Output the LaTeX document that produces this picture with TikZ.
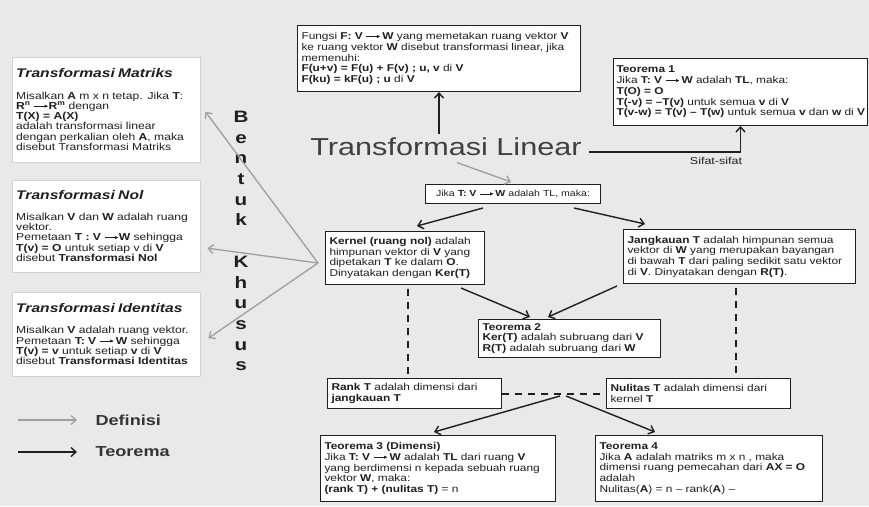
\documentclass[tikz,border=0pt]{standalone}
\usepackage{fontspec}
\setmainfont{Liberation Sans}
\newfontfamily\wide[FakeStretch=1.25]{Liberation Sans}
\newfontfamily\wider[FakeStretch=1.2]{Liberation Sans}
\usetikzlibrary{arrows.meta,calc}
\lineskiplimit=-6pt
\definecolor{bgc}{gray}{0.915}
\definecolor{ink}{gray}{0.12}
\definecolor{defc}{gray}{0.62}
\newcommand{\tto}{\tikz[baseline=-0.6ex]\draw[line width=0.55pt,-{Latex[length=3.5pt,width=3.2pt]}] (0pt,0pt)--(14pt,0pt);}
\newcommand{\bxfont}{\wider\fontsize{9.9}{10.7}\selectfont}
\newcommand{\jfont}{\wider\fontsize{8.8}{9.5}\selectfont}
\newcommand{\lbody}{\wider\fontsize{10.1}{10.3}\selectfont}
\newcommand{\ltitle}{\wide\fontsize{12.5}{14}\selectfont\bfseries\itshape}
\begin{document}
\begin{tikzpicture}[x=1pt,y=-1pt,
  box/.style={draw=ink,line width=1pt,fill=white,anchor=north west,inner xsep=4pt,inner ysep=2pt,align=left,font=\bxfont,text=ink},
  lbox/.style={draw=gray!35,line width=0.4pt,fill=white,anchor=north west,inner xsep=4pt,inner ysep=4pt,align=left,text=ink},
  thm/.style={draw=ink,line width=1.4pt,-{Straight Barb[length=5pt,width=9pt]}},
  defa/.style={draw=defc,line width=1.3pt,-{Straight Barb[length=5pt,width=9pt]}},
  dashy/.style={draw=ink,line width=2pt,dash pattern=on 7pt off 6pt}]
\fill[bgc] (0,0) rectangle (869,506);
\useasboundingbox (0,0) rectangle (869,506);

% title
\node[font=\wide\fontsize{24.5}{28}\selectfont,text=gray!50!black] (title) at (446,147) {Transformasi Linear};

% top boxes
\node[box,text width=275pt,minimum height=66pt] (fungsi) at (297,25)
 {\mbox{Fungsi \textbf{F: V} \tto\,\textbf{W} yang memetakan ruang vektor \textbf{V}}\\
  ke ruang vektor \textbf{W} disebut transformasi linear, jika\\
  memenuhi:\\
  \textbf{F(u+v) = F(u) + F(v) ; u, v} di \textbf{V}\\
  \textbf{F(ku) = kF(u) ; u} di \textbf{V}};

\node[box,inner xsep=3pt,text width=248pt,minimum height=67pt] (teo1) at (613,58)
 {\textbf{Teorema 1}\\
  Jika \textbf{T: V} \tto\,\textbf{W} adalah \textbf{TL}, maka:\\
  \textbf{T(O) = O}\\
  \textbf{T(-v) = –T(v)} untuk semua \textbf{v} di \textbf{V}\\
  \mbox{\textbf{T(v-w) = T(v) – T(w)} untuk semua \textbf{v} dan \textbf{w} di \textbf{V}}};

\node[font=\wide\fontsize{10}{12}\selectfont,text=ink] (sifat) at (716,161) {Sifat-sifat};

\node[box,text width=167pt,minimum height=19pt,align=center,font=\jfont] (jika) at (425,184)
 {Jika \textbf{T: V} \tto\,\textbf{W} adalah TL, maka:};

\node[box,text width=151pt,minimum height=53pt] (kernel) at (325,231)
 {\textbf{Kernel (ruang nol)} adalah\\
  himpunan vektor di \textbf{V} yang\\
  dipetakan \textbf{T} ke dalam \textbf{O}.\\
  Dinyatakan dengan \textbf{Ker(T)}};

\node[box,text width=224pt,minimum height=54pt] (jangkauan) at (623,229)
 {\textbf{Jangkauan T} adalah himpunan semua\\
  vektor di \textbf{W} yang merupakan bayangan\\
  di bawah \textbf{T} dari paling sedikit satu vektor\\
  di \textbf{V}. Dinyatakan dengan \textbf{R(T)}.};

\node[box,text width=174pt,minimum height=38pt] (teo2) at (478,319)
 {\textbf{Teorema 2}\\
  \textbf{Ker(T)} adalah subruang dari \textbf{V}\\
  \textbf{R(T)} adalah subruang dari \textbf{W}};

\node[box,text width=166pt,minimum height=30pt] (rank) at (327,378)
 {\textbf{Rank T} adalah dimensi dari\\ \textbf{jangkauan T}};

\node[box,text width=176pt,minimum height=30pt] (nulitas) at (606,378)
 {\textbf{Nulitas T} adalah dimensi dari\\ kernel \textbf{T}};

\node[box,text width=227pt,minimum height=66pt] (teo3) at (320,435)
 {\textbf{Teorema 3 (Dimensi)}\\
  Jika \textbf{T: V} \tto\,\textbf{W} adalah \textbf{TL} dari ruang \textbf{V}\\
  yang berdimensi n kepada sebuah ruang\\
  vektor \textbf{W}, maka:\\
  \textbf{(rank T) + (nulitas T)} = n};

\node[box,text width=219pt,minimum height=66pt] (teo4) at (595,435)
 {\textbf{Teorema 4}\\
  Jika \textbf{A} adalah matriks m x n , maka\\
  dimensi ruang pemecahan dari \textbf{AX = O}\\
  adalah\\
  Nulitas(\textbf{A}) = n – rank(\textbf{A}) –};

% left boxes
\node[lbox,text width=180pt,minimum height=105pt] (matriks) at (12,57)
 {{\ltitle Transformasi Matriks\par}\vspace{11pt}
  {\lbody Misalkan \textbf{A} m x n tetap. Jika \textbf{T}:\\
  \textbf{R\textsuperscript{n}} \tto\textbf{R\textsuperscript{m}} dengan\\
  \textbf{T(X) = A(X)}\\
  adalah transformasi linear\\
  dengan perkalian oleh \textbf{A}, maka\\
  disebut Transformasi Matriks\par}};

\node[lbox,text width=180pt,minimum height=92pt] (nol) at (12,180)
 {{\ltitle Transformasi Nol\par}\vspace{10pt}
  {\lbody Misalkan \textbf{V} dan \textbf{W} adalah ruang\\
  vektor.\\
  Pemetaan \textbf{T : V} \tto\textbf{W} sehingga\\
  \textbf{T(v) = O} untuk setiap v di \textbf{V}\\
  disebut \textbf{Transformasi Nol}\par}};

\node[lbox,text width=180pt,minimum height=84pt] (identitas) at (12,292)
 {{\ltitle Transformasi Identitas\par}\vspace{11pt}
  {\lbody \mbox{Misalkan \textbf{V} adalah ruang vektor.}\\
  Pemetaan \textbf{T: V} \tto\,\textbf{W} sehingga\\
  \textbf{T(v) = v} untuk setiap \textbf{v} di \textbf{V}\\
  disebut \textbf{Transformasi Identitas}\par}};

% Bentuk Khusus
\node[align=center,font=\wide\fontsize{16.5}{20.7}\selectfont\bfseries,text=ink] (bk) at (241,241)
 {B\\e\\n\\t\\u\\k\\[20.7pt]K\\h\\u\\s\\u\\s};

% legend
\coordinate (l1a) at (18,420); \coordinate (l1b) at (77,420);
\coordinate (l2a) at (18,452); \coordinate (l2b) at (77,452);
\draw[defa] (l1a) -- (l1b);
\draw[thm] (l2a) -- (l2b);
\node[anchor=west,font=\wide\fontsize{14.5}{16}\selectfont\bfseries,text=ink!90] (ldef) at (92,420) {Definisi};
\node[anchor=west,font=\wide\fontsize{14.5}{16}\selectfont\bfseries,text=ink!90] (lteo) at (92,452) {Teorema};

% definition arrows
\coordinate (conv) at (318,263);
\draw[defa] (conv) -- ([xshift=5pt,yshift=-2pt]matriks.east);
\draw[defa] (conv) -- ([xshift=7pt,yshift=-22pt]nol.east);
\draw[defa] (conv) -- ([xshift=8pt,yshift=-4pt]identitas.east);
\draw[defa] ([xshift=11pt,yshift=-3pt]title.south) -- ([xshift=-2pt,yshift=2pt]jika.north);

% theorem arrows
\draw[thm] (title.north -| fungsi.south) -- (fungsi.south);
\draw[thm] ([xshift=4pt,yshift=-5pt]title.east) -| (teo1.south);
\draw[thm] ([xshift=58pt,yshift=-4pt]jika.south west) -- ([xshift=12pt,yshift=5pt]kernel.north);
\draw[thm] ([xshift=-27pt,yshift=-4pt]jika.south east) -- ([xshift=22pt,yshift=5pt]jangkauan.north west);
\draw[thm] ([xshift=-24pt,yshift=-3pt]kernel.south east) -- ([xshift=52pt,yshift=2pt]teo2.north west);
\draw[thm] ([xshift=-6pt,yshift=-2pt]jangkauan.south west) -- ([xshift=70pt,yshift=2pt]teo2.north west);

% dashed links
\draw[dashy] ([xshift=3pt,yshift=-4pt]kernel.south) -- ([xshift=3pt]kernel.south |- rank.north);
\draw[dashy] ([xshift=-4pt,yshift=-4pt]jangkauan.south) -- ([xshift=-4pt]jangkauan.south |- nulitas.north);
\draw[dashy] (rank.east) -- (nulitas.west);
\coordinate (mid) at (562,394);
\draw[thm] ([xshift=-2pt,yshift=-2pt]mid) -- ([xshift=-4pt,yshift=3pt]teo3.north);
\draw[thm] ([xshift=4pt,yshift=-2pt]mid) -- ([xshift=60pt,yshift=3pt]teo4.north west);
\end{tikzpicture}
\end{document}
